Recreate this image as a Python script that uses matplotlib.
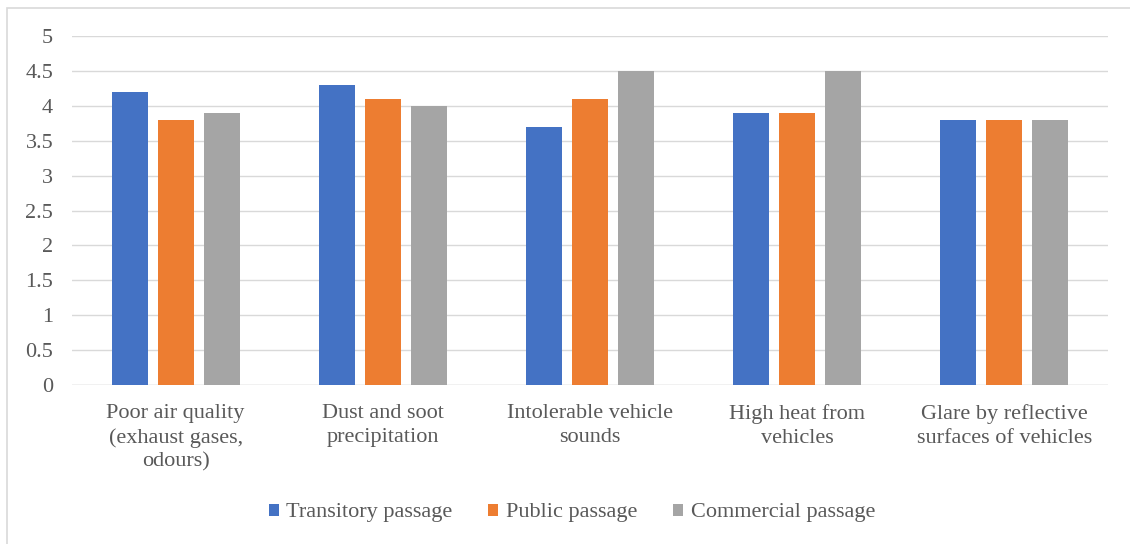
import numpy as np
import matplotlib.pyplot as plt
from matplotlib.patches import Rectangle

plt.rcParams['font.family'] = ['Liberation Serif', 'DejaVu Serif']

categories = ["Poor air quality\n(exhaust gases,\nodours)",
              "Dust and soot\nprecipitation",
              "Intolerable vehicle\nsounds",
              "High heat from\nvehicles",
              "Glare by reflective\nsurfaces of vehicles"]
series = ["Transitory passage", "Public passage", "Commercial passage"]
transitory = [4.2, 4.3, 3.7, 3.9, 3.8]
public = [3.8, 4.1, 4.1, 3.9, 3.8]
commercial = [3.9, 4.0, 4.5, 4.5, 3.8]
colors = ["#4472C4", "#ED7D31", "#A5A5A5"]

text_col = "#595959"
grid_col = "#D9D9D9"

fig = plt.figure(figsize=(11.3, 5.44), dpi=100)
ax = fig.add_axes([72 / 1130, 1 - 385 / 544, 1036 / 1130, 349 / 544])

x = np.arange(len(categories))
w = 0.174
step = 0.222
for i, (vals, name, c) in enumerate(zip([transitory, public, commercial], series, colors)):
    ax.bar(x + (i - 1) * step, vals, width=w, color=c, label=name, zorder=3)

ax.set_xlim(-0.5, len(categories) - 0.5)
ax.set_ylim(0, 5)
ax.set_yticks(np.arange(0, 5.01, 0.5))
ax.set_yticklabels(["0", "0.5", "1", "1.5", "2", "2.5", "3", "3.5", "4", "4.5", "5"])
ax.set_xticks(x)
ax.set_xticklabels(categories, linespacing=1.3)
ax.tick_params(length=0, labelsize=16, colors=text_col)
ax.tick_params(axis='y', pad=13.5)
ax.tick_params(axis='x', pad=14)
ax.grid(axis='y', color=grid_col, linewidth=1, zorder=0)
for s in ax.spines.values():
    s.set_visible(False)
ax.axhline(0, color=grid_col, linewidth=1, zorder=2)

leg = fig.legend(loc='center', bbox_to_anchor=(0.506, 1 - 513 / 544), ncol=3,
                 frameon=False, fontsize=16, handlelength=0.45, handleheight=0.45,
                 handletextpad=0.35, columnspacing=1.6)
for t in leg.get_texts():
    t.set_color(text_col)

# chart border
fig.patches.append(Rectangle((7 / 1130, -0.02), 1.1, 1 - 8 / 544 + 0.02,
                             transform=fig.transFigure, fill=False,
                             edgecolor=grid_col, linewidth=1.2))

fig.savefig("out.png", dpi=100)
